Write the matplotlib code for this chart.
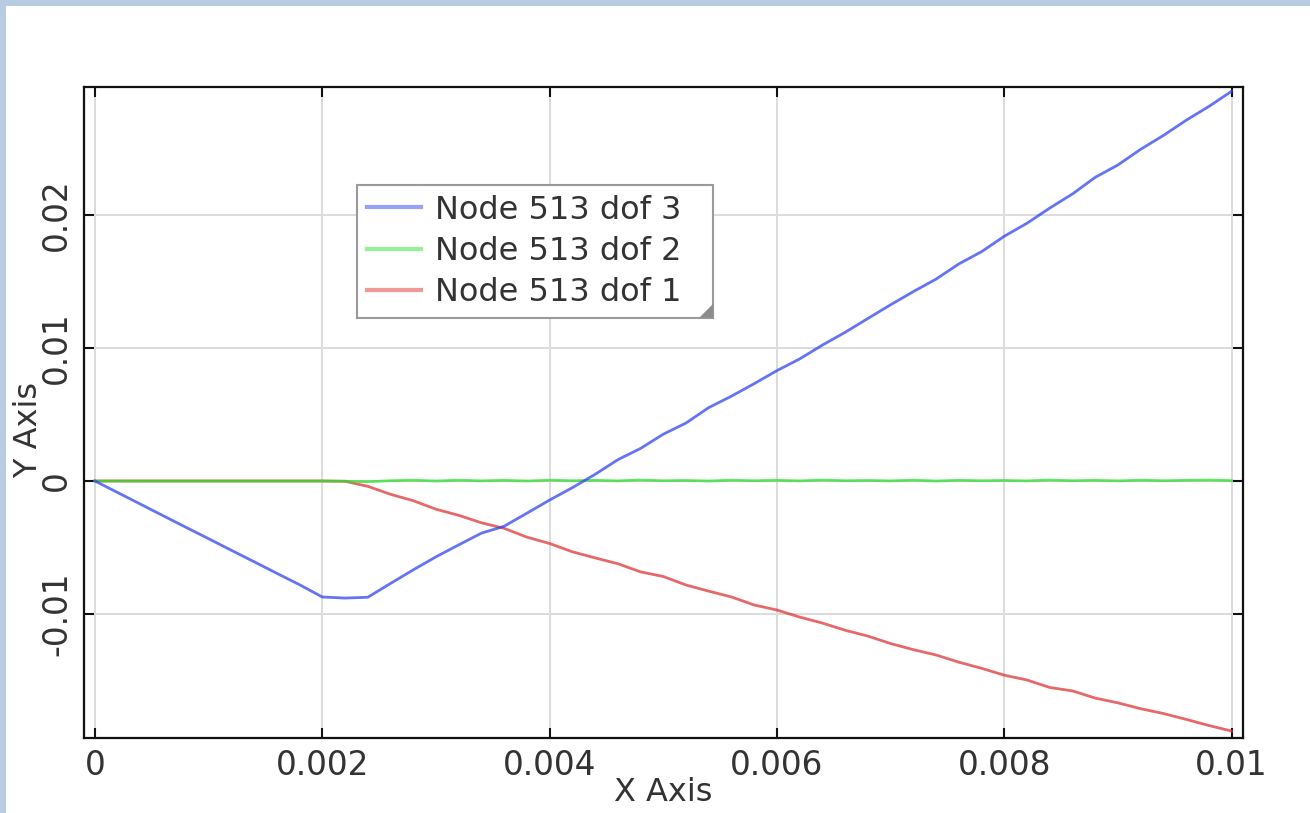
import matplotlib
matplotlib.use("Agg")
import matplotlib.pyplot as plt
from matplotlib.patches import Rectangle, Polygon

# sample times (s)
t = [0.0000, 0.0002, 0.0004, 0.0006, 0.0008, 0.0010, 0.0012, 0.0014, 0.0016, 0.0018,
     0.0020, 0.0022, 0.0024, 0.0026, 0.0028, 0.0030, 0.0032, 0.0034, 0.0036, 0.0038,
     0.0040, 0.0042, 0.0044, 0.0046, 0.0048, 0.0050, 0.0052, 0.0054, 0.0056, 0.0058,
     0.0060, 0.0062, 0.0064, 0.0066, 0.0068, 0.0070, 0.0072, 0.0074, 0.0076, 0.0078,
     0.0080, 0.0082, 0.0084, 0.0086, 0.0088, 0.0090, 0.0092, 0.0094, 0.0096, 0.0098,
     0.0100]

dof3 = [0.0, -0.00087, -0.00174, -0.00261, -0.00348, -0.00434, -0.00521, -0.00607, -0.00694, -0.00780,
        -0.00872, -0.00880, -0.00874, -0.00770, -0.00668, -0.00570, -0.00480, -0.00392, -0.00340, -0.00242,
        -0.00143, -0.00050, 0.00050, 0.00160, 0.00245, 0.00352, 0.00436, 0.00552, 0.00638, 0.00732,
        0.00830, 0.00918, 0.01022, 0.01118, 0.01222, 0.01325, 0.01424, 0.01518, 0.01632, 0.01724,
        0.01840, 0.01938, 0.02052, 0.02158, 0.02283, 0.02376, 0.02494, 0.02598, 0.02712, 0.02816,
        0.02930]

dof2 = [0.0, 0.0, 0.0, 0.0, 0.0, 0.0, 0.0, 0.0, 0.0, 0.0,
        0.0, -0.00002, -0.00005, 0.00002, 0.00006, 0.00000, 0.00006, 0.00001, 0.00005, 0.00000,
        0.00006, 0.00002, 0.00005, 0.00001, 0.00007, 0.00002, 0.00004, 0.00000, 0.00006, 0.00002,
        0.00005, 0.00001, 0.00007, 0.00002, 0.00004, 0.00001, 0.00006, 0.00000, 0.00005, 0.00002,
        0.00004, 0.00001, 0.00007, 0.00002, 0.00005, 0.00001, 0.00006, 0.00002, 0.00005, 0.00007,
        0.00003]

dof1 = [0.0, 0.0, 0.0, 0.0, 0.0, 0.0, 0.0, 0.0, 0.0, 0.0,
        0.0, -0.00002, -0.00040, -0.00100, -0.00148, -0.00212, -0.00258, -0.00314, -0.00356, -0.00422,
        -0.00470, -0.00532, -0.00578, -0.00622, -0.00683, -0.00718, -0.00782, -0.00828, -0.00872, -0.00932,
        -0.00970, -0.01023, -0.01068, -0.01122, -0.01166, -0.01222, -0.01268, -0.01308, -0.01362, -0.01408,
        -0.01460, -0.01496, -0.01552, -0.01578, -0.01632, -0.01668, -0.01712, -0.01748, -0.01792, -0.01838,
        -0.01880]

series = [("Node 513 dof 3", dof3, "#3045f0"),
          ("Node 513 dof 2", dof2, "#30e030"),
          ("Node 513 dof 1", dof1, "#e03535")]

xticks = [0, 0.002, 0.004, 0.006, 0.008, 0.01]
xticklabels = ["0", "0.002", "0.004", "0.006", "0.008", "0.01"]
yticks = [-0.01, 0, 0.01, 0.02]
yticklabels = ["-0.01", "0", "0.01", "0.02"]

plt.rcParams['font.family'] = ['DejaVu Sans']
fs = 23.5
txt = '#333333'

fig = plt.figure(figsize=(13.1, 8.13), dpi=100)
fig.patch.set_facecolor('#b9cbe2')
fig.patches.append(Rectangle((6 / 1310, 0), 1 - 6 / 1310, 1 - 6 / 813,
                             transform=fig.transFigure, facecolor='white',
                             edgecolor='none', zorder=-5))

ax = fig.add_axes([84 / 1310, 75 / 813, 1159 / 1310, 651 / 813])
ax.set_facecolor('white')

# draw in reverse so dof 3 sits on top
for label, vals, col in reversed(series):
    ax.plot(t, vals, color=col, lw=2.0, alpha=0.75, label=label)

ax.set_xlim(-0.0000967, 0.0101)
ax.set_ylim(-0.01932, 0.02962)

ax.set_xticks(xticks)
ax.set_xticklabels(xticklabels)
ax.set_yticks(yticks)
ax.set_yticklabels(yticklabels, rotation=90, va='center')

ax.grid(True, color='#dcdcdc', lw=1.4)
ax.set_axisbelow(True)
ax.tick_params(direction='in', length=7, width=1.5, top=True, right=True,
               labelsize=fs, labelcolor=txt, pad=8, color='#111111')
for sp in ax.spines.values():
    sp.set_linewidth(1.6)
    sp.set_color('#111111')

ax.set_xlabel("X Axis", fontsize=23, color=txt, va='top')
ax.xaxis.set_label_coords(0.5, -0.060)
ax.set_ylabel("Y Axis", fontsize=23, color=txt)
ax.yaxis.set_label_coords(-0.034, 0.473)

handles, labels = ax.get_legend_handles_labels()
leg = ax.legend(handles[::-1], labels[::-1], loc='upper left',
                bbox_to_anchor=(273 / 1159, 553 / 651), borderaxespad=0,
                fontsize=23, frameon=False, handlelength=1.7, handletextpad=0.45,
                labelspacing=0.32, borderpad=0.3)
for h in leg.get_lines():
    h.set_linewidth(3)
    h.set_alpha(0.5)
for tx in leg.get_texts():
    tx.set_color(txt)

# legend frame drawn by hand: a bit wider on the right, with a resize grip
fig.canvas.draw()
bb = leg.get_window_extent()
w = bb.width + 22
ax.add_patch(Rectangle((bb.x0, bb.y0), w, bb.height, transform=None,
                       facecolor='white', edgecolor='#9a9a9a', lw=1.5,
                       zorder=4.9, clip_on=False))
s = 14
ax.add_patch(Polygon([[bb.x0 + w, bb.y0], [bb.x0 + w, bb.y0 + s],
                      [bb.x0 + w - s, bb.y0]],
                     closed=True, transform=None, facecolor='#8c8c8c',
                     edgecolor='none', zorder=6, clip_on=False))

fig.savefig("out.png", dpi=100, facecolor=fig.get_facecolor())
